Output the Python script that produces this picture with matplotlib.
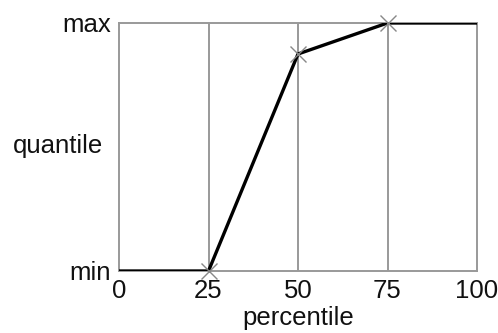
import matplotlib
matplotlib.use("Agg")
import matplotlib.pyplot as plt

percentiles = [0, 25, 50, 75, 100]
quantiles = [0.0, 0.0, 0.875, 1.0, 1.0]
marked = [25, 50, 75]
marked_q = [0.0, 0.875, 1.0]
x_ticks = [0, 25, 50, 75, 100]
y_ticks = [0.0, 1.0]
y_tick_labels = ["min", "max"]

plt.rcParams["font.family"] = ["Liberation Sans", "DejaVu Sans"]

fig = plt.figure(figsize=(4.98, 3.33), dpi=100)
ax = fig.add_axes([119 / 498, 1 - 271 / 333, (477 - 119) / 498, (271 - 23) / 333])

grey = "#999999"
for xv in x_ticks[1:-1]:
    ax.axvline(xv, color=grey, lw=1.4, zorder=1)

ax.plot(percentiles, quantiles, color="black", lw=2.4, zorder=3, solid_capstyle="butt")
ax.plot(marked, marked_q, linestyle="none", marker="x", ms=12, mew=1.0,
        color="#888888", zorder=4, clip_on=False)

ax.set_xlim(0, 100)
ax.set_ylim(0, 1)
ax.set_xticks(x_ticks)
ax.set_xticklabels([str(v) for v in x_ticks])
ax.set_yticks(y_ticks)
ax.set_yticklabels(y_tick_labels)
ax.tick_params(length=0, labelsize=18.5, pad=6, colors="#111111")
ax.tick_params(axis="y", pad=6)
for s in ax.spines.values():
    s.set_color(grey)
    s.set_linewidth(1.4)

ax.set_xlabel("percentile", fontsize=18.5, labelpad=2, color="#111111")
fig.text(13 / 498, 1 - 146 / 333, "quantile", fontsize=18.5, ha="left", va="center",
         color="#111111")

fig.savefig("out.png", dpi=100)
